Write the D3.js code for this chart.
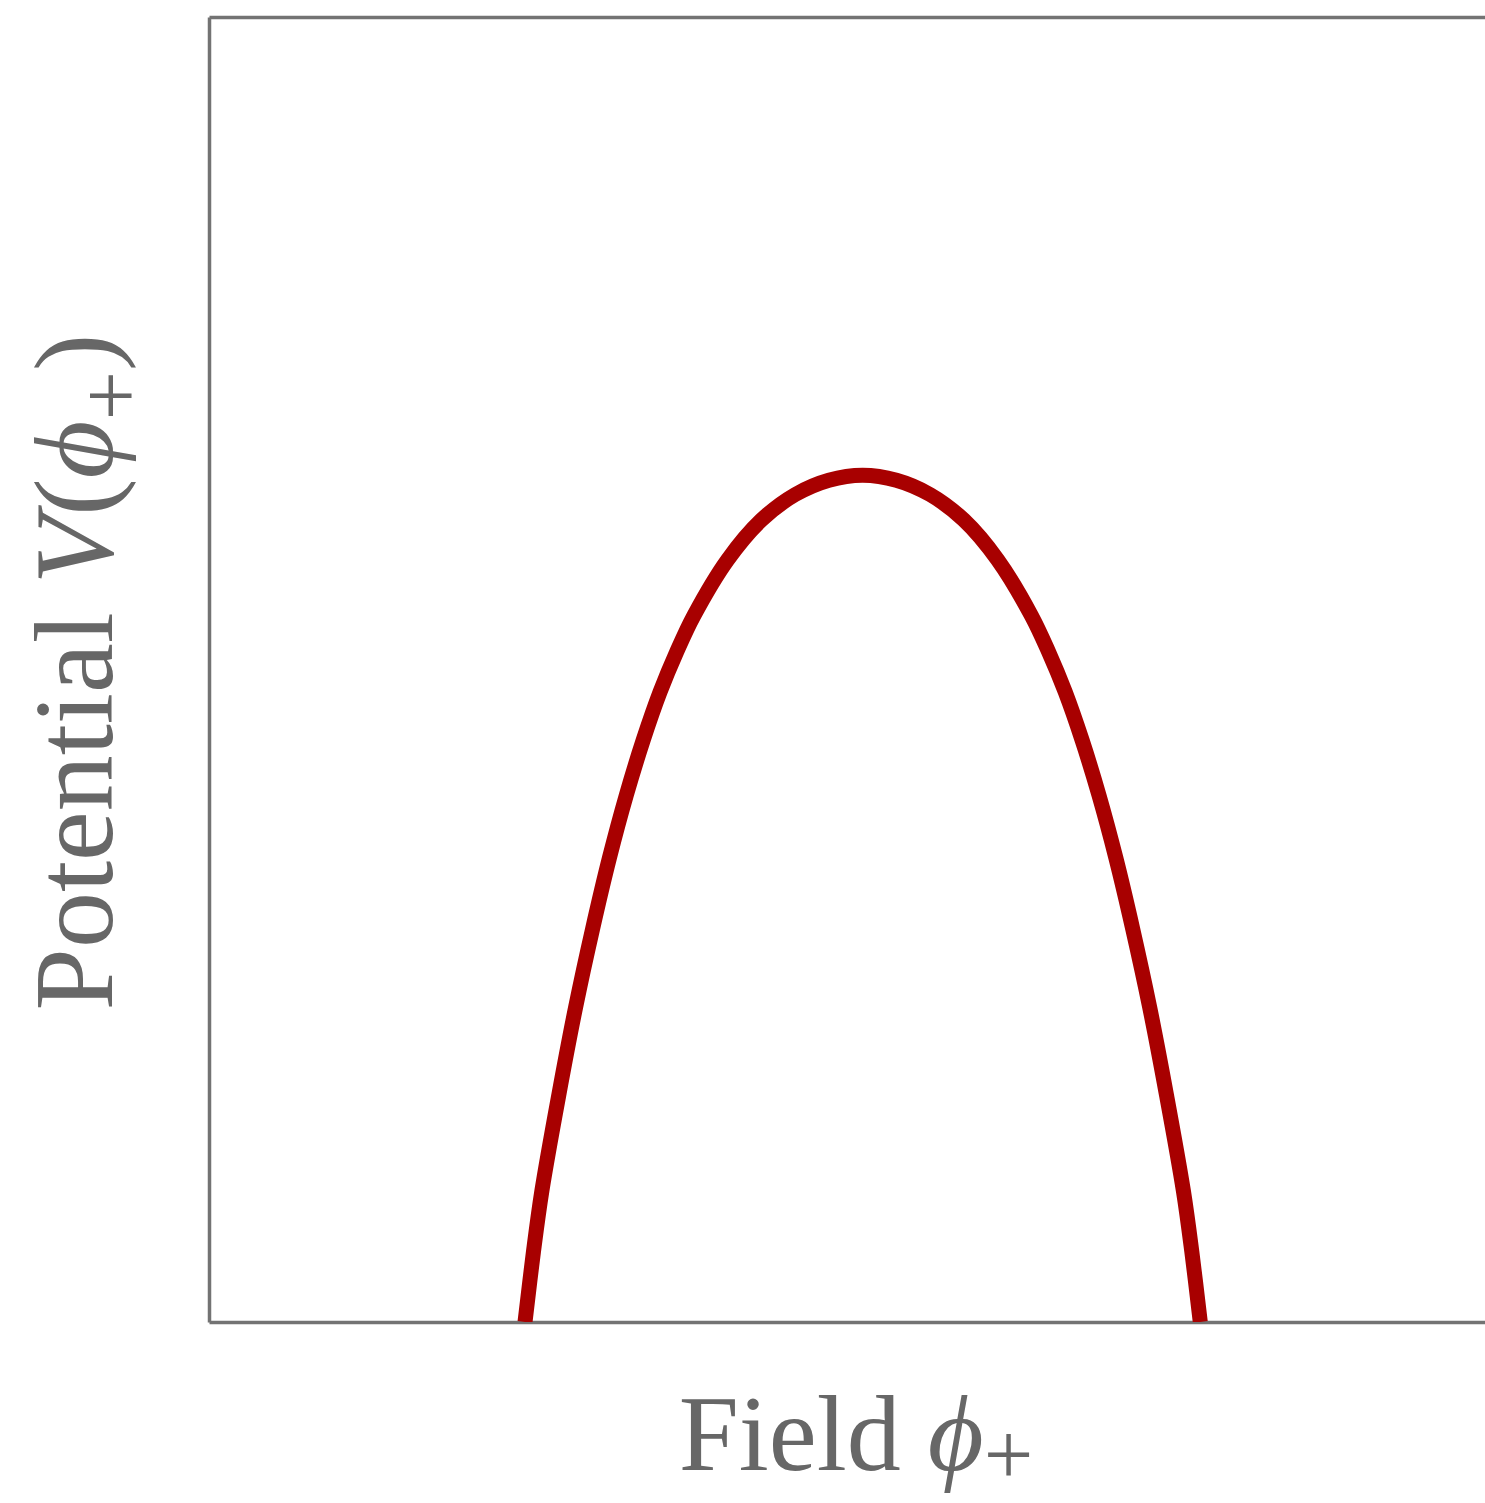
<!DOCTYPE html>
<html>
<head>
<meta charset="utf-8">
<script src="https://cdn.jsdelivr.net/npm/d3@7"></script>
<style>
  body { margin: 0; background: #fff; }
  .frame path { stroke: #737373; stroke-width: 3.5px; }
  .label { font-family: "Liberation Serif", "Times New Roman", "DejaVu Serif", serif; fill: #676767; }
</style>
</head>
<body>
<script>
// curve: field (phi+) and potential V
var fieldValues = [-1.0, -0.975, -0.95, -0.9, -0.85, -0.8, -0.75, -0.7, -0.65, -0.6, -0.55, -0.5,
                   -0.4, -0.3, -0.2, -0.1, 0.0, 0.1, 0.2, 0.3, 0.4,
                   0.5, 0.55, 0.6, 0.65, 0.7, 0.75, 0.8, 0.85, 0.9, 0.95, 0.975, 1.0];
var potentialValues = [0.0, 0.083, 0.155, 0.268, 0.372, 0.464, 0.548, 0.622, 0.687, 0.744, 0.792, 0.834,
                       0.900, 0.947, 0.977, 0.994, 1.0, 0.994, 0.977, 0.947, 0.900,
                       0.834, 0.792, 0.744, 0.687, 0.622, 0.548, 0.464, 0.372, 0.268, 0.155, 0.083, 0.0];
var xLabel = "Field";
var yLabel = "Potential";

var width = 1485, height = 1503;

var svg = d3.select("body")
    .append("svg")
    .attr("width", width)
    .attr("height", height);

// scales - plot box runs off the right side of the picture
var x = d3.scaleLinear()
    .domain([-1.936, 1.87])
    .range([209, 1494]);

var y = d3.scaleLinear()
    .domain([0, 1.541])
    .range([1322, 17]);

// frame drawn from four empty axes
function frameAxis(axis, transform) {
    var g = svg.append("g")
        .attr("class", "frame")
        .attr("transform", transform)
        .call(axis.tickValues([]).tickSizeOuter(0));
    g.select(".domain").attr("fill", "none");
}
frameAxis(d3.axisBottom(x), "translate(0,1322)");
frameAxis(d3.axisTop(x), "translate(0,17)");
frameAxis(d3.axisLeft(y), "translate(209,0)");
frameAxis(d3.axisRight(y), "translate(1494,0)");

svg.append("clipPath")
    .attr("id", "plotClip")
    .append("rect")
    .attr("x", 209)
    .attr("y", 17)
    .attr("width", 1494 - 209)
    .attr("height", 1322 - 17);

var points = fieldValues.map(function(d, i){
    return [d, potentialValues[i]];
});

var line = d3.line()
    .x(function(d){ return x(d[0]); })
    .y(function(d){ return y(d[1]); })
    .curve(d3.curveCatmullRom.alpha(0.5));

svg.append("path")
    .datum(points)
    .attr("clip-path", "url(#plotClip)")
    .attr("d", line)
    .attr("fill", "none")
    .attr("stroke", "#a80000")
    .attr("stroke-width", 15);

// x label
var xt = svg.append("text")
    .attr("class", "label")
    .attr("x", 856)
    .attr("y", 1470)
    .attr("text-anchor", "middle")
    .style("font-size", "108px");
xt.append("tspan").text(xLabel + " ");
xt.append("tspan").style("font-style", "italic").text("\u03D5");
xt.append("tspan").attr("dy", 14).style("font-size", "88px").text("+");

// y label
var yt = svg.append("text")
    .attr("class", "label")
    .attr("transform", "translate(112,672) rotate(-90)")
    .attr("text-anchor", "middle")
    .style("font-size", "112px");
yt.append("tspan").text(yLabel + " ");
yt.append("tspan").style("font-style", "italic").text("V");
yt.append("tspan").text("(");
yt.append("tspan").style("font-style", "italic").text("\u03D5");
yt.append("tspan").attr("dy", 28).style("font-size", "88px").text("+");
yt.append("tspan").attr("dy", -28).text(")");
</script>
</body>
</html>
